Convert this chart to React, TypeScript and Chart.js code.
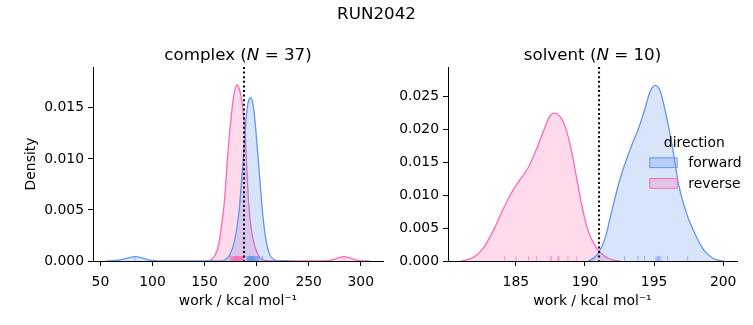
import React, { useEffect, useRef } from 'react';
import { Chart, registerables } from 'chart.js';

Chart.register(...registerables);

const FONT = "'DejaVu Sans', 'Liberation Sans', sans-serif";
const TICK_SIZE = 13.9;
const TITLE_SIZE = 16.7;
const BLUE = 'rgb(100,149,237)';
const PINK = 'rgb(255,105,180)';
const BLUE_FILL = 'rgba(100,149,237,0.25)';
const PINK_FILL = 'rgba(255,105,180,0.25)';
const BLUE_RUG = 'rgba(100,149,237,0.6)';
const PINK_RUG = 'rgba(255,105,180,0.6)';

const figureTitle = 'RUN2042';
const xAxisLabel = 'work / kcal mol⁻¹';
const yAxisLabel = 'Density';
const legendTitle = 'direction';
const directionNames = ['forward', 'reverse'];
const panelNames = ['complex', 'solvent'];
const panelCounts = [37, 10];

// ---- complex panel ----
const complexXTicks = [50, 100, 150, 200, 250, 300];
const complexYTicks = [0, 0.005, 0.01, 0.015];
const complexXRange = [42.9, 321.4];
const complexYMax = 0.019;
const complexEstimate = 187.9;

const complexForwardX = [55.6, 60, 65, 70, 75, 80, 83, 86, 90, 95, 100, 105, 110, 165, 169.5, 174.3, 179.1, 183, 185.6, 188.1, 190.4, 192.3, 194.2, 196, 197.7, 200.6, 203.2, 205.8, 209, 212.8, 217.6, 222, 233];
const complexForwardY = [0, 0.00002, 0.00006, 0.00014, 0.00026, 0.00038, 0.00042, 0.0004, 0.0003, 0.00014, 0.00005, 0.00001, 0, 0, 0.0001, 0.0006, 0.0021, 0.0047, 0.0079, 0.0112, 0.0145, 0.0157, 0.016, 0.0156, 0.0145, 0.0112, 0.0079, 0.0047, 0.0021, 0.0006, 0.0001, 0.00001, 0];
const complexReverseX = [150, 153.5, 156, 158.3, 160.7, 163.1, 166.3, 169.5, 171.7, 174.3, 177.5, 179.5, 181.3, 183.3, 185.6, 188.8, 190.4, 192, 194.5, 198.4, 203.2, 208, 215, 260, 265, 270, 275, 280, 284, 288, 292, 297, 302, 308.4];
const complexReverseY = [0, 0.00002, 0.0001, 0.0003, 0.0007, 0.0014, 0.0034, 0.0063, 0.0096, 0.0128, 0.0158, 0.0169, 0.01725, 0.0169, 0.0158, 0.0128, 0.0096, 0.0063, 0.0034, 0.0014, 0.0003, 0.00005, 0, 0, 0.00001, 0.00005, 0.00018, 0.00036, 0.00042, 0.00036, 0.0002, 0.00006, 0.00001, 0];
const complexForwardRug = [83.0, 190.5, 191.2, 191.8, 192.3, 192.7, 193.0, 193.3, 193.6, 193.9, 194.1, 194.3, 194.5, 194.7, 194.9, 195.1, 195.3, 195.5, 195.7, 195.9, 196.1, 196.3, 196.6, 196.9, 197.2, 197.5, 197.8, 198.2, 198.6, 199.1, 199.6, 200.2, 200.8, 201.5, 202.4, 205.2, 205.9];
const complexReverseRug = [174.5, 175.3, 176.0, 176.6, 177.1, 177.5, 177.9, 178.3, 178.6, 178.9, 179.2, 179.5, 179.8, 180.1, 180.4, 180.7, 181.0, 181.3, 181.6, 181.9, 182.2, 182.5, 182.8, 183.1, 183.4, 183.7, 184.0, 184.4, 184.8, 185.2, 185.6, 186.0, 186.4, 186.8, 187.0, 187.2, 284.0];

// ---- solvent panel ----
const solventXTicks = [185, 190, 195, 200];
const solventYTicks = [0, 0.005, 0.01, 0.015, 0.02, 0.025];
const solventXRange = [180.09, 201.0];
const solventYMax = 0.0295;
const solventEstimate = 191.02;

const solventForwardX = [190.24, 190.6, 190.97, 191.46, 191.94, 192.42, 192.91, 193.4, 193.88, 194.36, 194.72, 195.09, 195.45, 195.81, 196.3, 196.78, 197.39, 197.99, 198.59, 199.2, 199.6, 200.05];
const solventForwardY = [0, 0.0004, 0.0012, 0.0035, 0.0076, 0.0116, 0.0149, 0.0177, 0.0202, 0.0233, 0.0258, 0.0267, 0.0258, 0.0228, 0.0177, 0.0116, 0.007, 0.004, 0.0017, 0.0005, 0.00015, 0];
const solventReverseX = [181.04, 181.5, 182.0, 182.73, 183.45, 184.06, 184.66, 185.27, 185.87, 186.47, 187.08, 187.44, 187.81, 188.29, 188.65, 189.01, 189.38, 189.74, 190.1, 190.46, 190.83, 191.1, 191.8, 192.53];
const solventReverseY = [0, 0.0002, 0.00065, 0.0022, 0.005, 0.0078, 0.0103, 0.0123, 0.0141, 0.0169, 0.0202, 0.022, 0.0225, 0.0217, 0.0199, 0.0169, 0.0128, 0.0088, 0.0055, 0.0034, 0.002, 0.0013, 0.0003, 0];
const solventForwardRug = [192.86, 193.83, 194.31, 195.14, 195.25, 195.3, 195.38, 195.5, 195.98, 197.43];
const solventReverseRug = [184.18, 185.02, 185.92, 186.5, 187.49, 187.59, 188.05, 188.12, 188.77, 189.38];

type Panel = {
  name: string;
  n: number;
  fx: number[]; fy: number[]; rx: number[]; ry: number[];
  fRug: number[]; rRug: number[];
  est: number;
  xTicks: number[]; yTicks: number[];
  xRange: number[]; yMax: number;
  padLeft: number; padRight: number; yAxisWidth: number;
  showYLabel: boolean; showLegend: boolean; showSuptitle: boolean;
};

const panels: Panel[] = [
  {
    name: panelNames[0], n: panelCounts[0],
    fx: complexForwardX, fy: complexForwardY, rx: complexReverseX, ry: complexReverseY,
    fRug: complexForwardRug, rRug: complexReverseRug, est: complexEstimate,
    xTicks: complexXTicks, yTicks: complexYTicks, xRange: complexXRange, yMax: complexYMax,
    padLeft: 0, padRight: 370, yAxisWidth: 93,
    showYLabel: true, showLegend: false, showSuptitle: true,
  },
  {
    name: panelNames[1], n: panelCounts[1],
    fx: solventForwardX, fy: solventForwardY, rx: solventReverseX, ry: solventReverseY,
    fRug: solventForwardRug, rRug: solventReverseRug, est: solventEstimate,
    xTicks: solventXTicks, yTicks: solventYTicks, xRange: solventXRange, yMax: solventYMax,
    padLeft: 395, padRight: 16, yAxisWidth: 53,
    showYLabel: false, showLegend: true, showSuptitle: false,
  },
];

function drawParts(ctx: CanvasRenderingContext2D, cx: number, y: number, parts: { t: string; italic?: boolean }[], size: number) {
  const fonts = parts.map(p => `${p.italic ? 'italic ' : ''}${size}px ${FONT}`);
  let total = 0;
  const widths = parts.map((p, i) => { ctx.font = fonts[i]; const w = ctx.measureText(p.t).width; total += w; return w; });
  let x = cx - total / 2;
  ctx.textAlign = 'left';
  ctx.textBaseline = 'alphabetic';
  parts.forEach((p, i) => { ctx.font = fonts[i]; ctx.fillText(p.t, x, y); x += widths[i]; });
}

function makeChart(canvas: HTMLCanvasElement, p: Panel) {
  const toPts = (xs: number[], ys: number[]) => xs.map((x, i) => ({ x, y: ys[i] }));
  const overlay = {
    id: 'overlay',
    afterDatasetsDraw(chart: any) {
      const { ctx, chartArea: a, scales } = chart;
      const xs = scales.x;
      const h = (a.bottom - a.top) * 0.025;
      ctx.save();
      ctx.lineWidth = 1;
      ([[p.fRug, BLUE_RUG], [p.rRug, PINK_RUG]] as [number[], string][]).forEach(([vals, color]) => {
        ctx.strokeStyle = color;
        vals.forEach(v => {
          const px = xs.getPixelForValue(v);
          ctx.beginPath();
          ctx.moveTo(px, a.bottom);
          ctx.lineTo(px, a.bottom - h);
          ctx.stroke();
        });
      });
      const ex = xs.getPixelForValue(p.est);
      ctx.strokeStyle = '#000';
      ctx.lineWidth = 2;
      ctx.setLineDash([2, 2.6]);
      ctx.beginPath();
      ctx.moveTo(ex, a.top);
      ctx.lineTo(ex, a.bottom);
      ctx.stroke();
      ctx.restore();
    },
    afterDraw(chart: any) {
      const { ctx, chartArea: a } = chart;
      ctx.save();
      ctx.fillStyle = '#000';
      drawParts(ctx, (a.left + a.right) / 2, a.top - 7.5, [
        { t: `${p.name} (` }, { t: 'N', italic: true }, { t: ` = ${p.n})` },
      ], TITLE_SIZE);
      if (p.showSuptitle) {
        drawParts(ctx, chart.width / 2, 19, [{ t: figureTitle }], TITLE_SIZE);
      }
      if (p.showLegend) {
        const lx = a.right - 87.7;
        const mid = (a.top + a.bottom) / 2;
        ctx.font = `${TICK_SIZE}px ${FONT}`;
        ctx.textAlign = 'center';
        ctx.textBaseline = 'alphabetic';
        ctx.fillText(legendTitle, lx + 45, mid - 17.5);
        const rows = [
          { name: directionNames[0], fill: BLUE_FILL, stroke: BLUE, top: mid - 6.6 },
          { name: directionNames[1], fill: PINK_FILL, stroke: PINK, top: mid + 14 },
        ];
        rows.forEach(r => {
          ctx.fillStyle = r.fill;
          ctx.fillRect(lx, r.top, 27.4, 9.7);
          ctx.strokeStyle = r.stroke;
          ctx.lineWidth = 1;
          ctx.strokeRect(lx + 0.5, r.top + 0.5, 27.4, 9.7);
          ctx.fillStyle = '#000';
          ctx.textAlign = 'left';
          ctx.fillText(r.name, lx + 39, r.top + 9.5);
        });
      }
      ctx.restore();
    },
  };

  const tickFont = { family: FONT, size: TICK_SIZE };
  return new Chart(canvas, {
    type: 'line',
    data: {
      datasets: [
        {
          label: directionNames[0], data: toPts(p.fx, p.fy), borderColor: BLUE, backgroundColor: BLUE_FILL,
          fill: 'origin', pointRadius: 0, borderWidth: 1.3, cubicInterpolationMode: 'monotone',
        },
        {
          label: directionNames[1], data: toPts(p.rx, p.ry), borderColor: PINK, backgroundColor: PINK_FILL,
          fill: 'origin', pointRadius: 0, borderWidth: 1.3, cubicInterpolationMode: 'monotone',
        },
      ],
    },
    options: {
      responsive: false,
      animation: false,
      devicePixelRatio: 1,
      events: [],
      layout: { padding: { left: p.padLeft, right: p.padRight, top: 67, bottom: 0 } },
      plugins: { legend: { display: false }, tooltip: { enabled: false }, title: { display: false } },
      scales: {
        x: {
          type: 'linear', position: 'bottom', min: p.xRange[0], max: p.xRange[1],
          grid: { display: true, drawOnChartArea: false, drawTicks: true, tickLength: 5, color: '#000', lineWidth: 1 },
          border: { display: true, color: '#000', width: 1 },
          ticks: { color: '#000', font: tickFont, padding: 8, maxRotation: 0, autoSkip: false, callback: (v: any) => String(v) },
          title: { display: true, text: xAxisLabel, color: '#000', font: tickFont, padding: { top: 0, bottom: 15.7 } },
          afterBuildTicks: (s: any) => { s.ticks = p.xTicks.map(v => ({ value: v })); },
          afterFit: (s: any) => { s.height = 64; },
        },
        y: {
          type: 'linear', position: 'left', min: 0, max: p.yMax,
          grid: { display: true, drawOnChartArea: false, drawTicks: true, tickLength: 5, color: '#000', lineWidth: 1 },
          border: { display: true, color: '#000', width: 1 },
          ticks: { color: '#000', font: tickFont, padding: 4, autoSkip: false, callback: (v: any) => Number(v).toFixed(3) },
          title: { display: p.showYLabel, text: yAxisLabel, color: '#000', font: tickFont, padding: { top: 22.7, bottom: 0 } },
          afterBuildTicks: (s: any) => { s.ticks = p.yTicks.map(v => ({ value: v })); },
          afterFit: (s: any) => { s.width = p.yAxisWidth; },
        },
      },
    },
    plugins: [overlay],
  } as any);
}

export default function App() {
  const leftRef = useRef<HTMLCanvasElement>(null);
  const rightRef = useRef<HTMLCanvasElement>(null);
  useEffect(() => {
    const charts = [makeChart(leftRef.current!, panels[0]), makeChart(rightRef.current!, panels[1])];
    return () => charts.forEach(c => c.destroy());
  }, []);
  const cs: React.CSSProperties = { position: 'absolute', left: 0, top: 0, width: 753, height: 325 };
  return (
    <div style={{ position: 'fixed', left: 0, top: 0, width: 753, height: 325, background: '#fff' }}>
      <canvas ref={leftRef} width={753} height={325} style={cs} />
      <canvas ref={rightRef} width={753} height={325} style={cs} />
    </div>
  );
}
